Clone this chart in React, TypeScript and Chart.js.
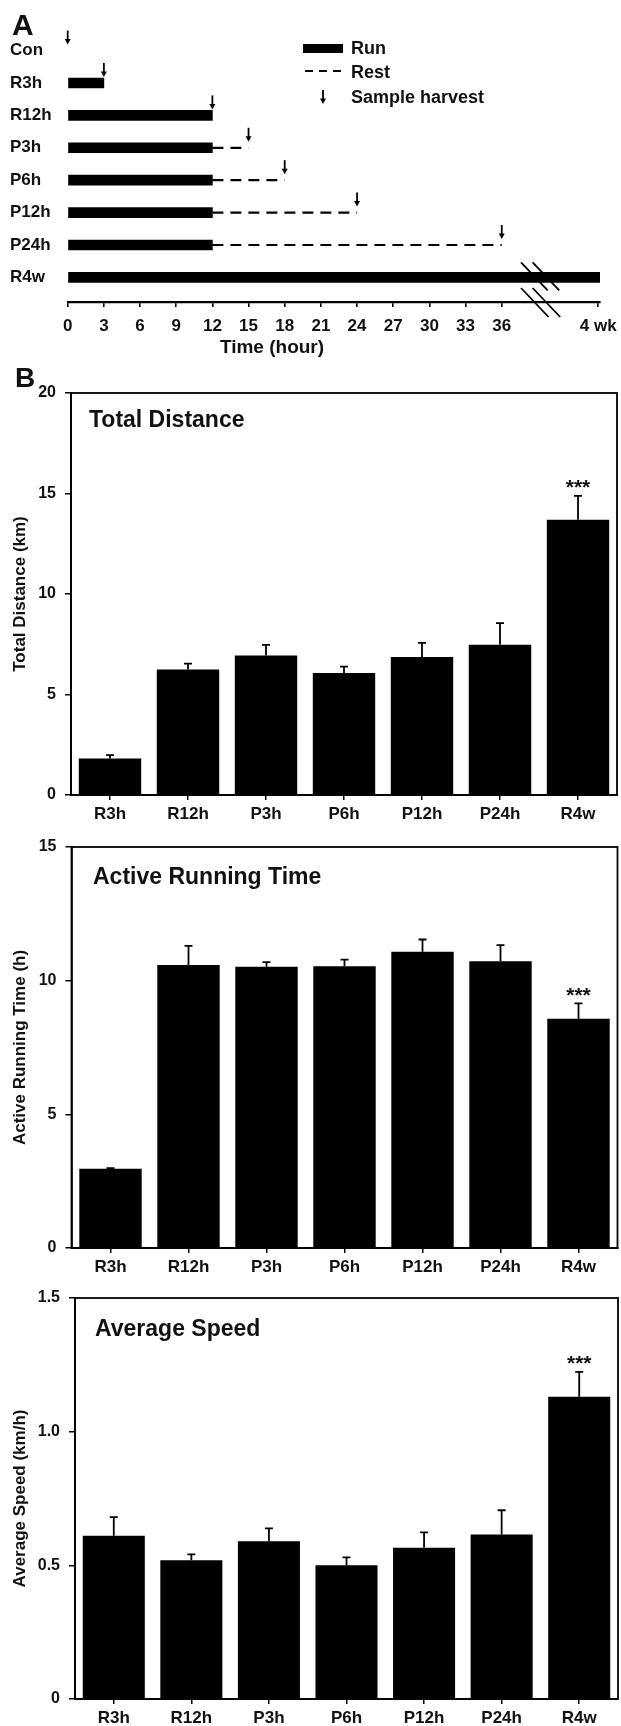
import React, { useEffect, useRef } from 'react';
import { Chart, registerables } from 'chart.js';

Chart.register(...registerables);

const FONT_FAMILY = '"Liberation Sans", Arial, Helvetica, sans-serif';
const INK = '#111111';
const MARK = '#000000';
const W = 621;

// ---------- Panel A: experimental timeline ----------
const rowLabels = ['Con', 'R3h', 'R12h', 'P3h', 'P6h', 'P12h', 'P24h', 'R4w'];
const runEndHour = [null, 3, 12, 12, 12, 12, 12, 44.15];
const restStartHour = [null, null, null, 12, 12, 12, 12, null];
const restEndHour = [null, null, null, 15, 18, 24, 36, null];
const harvestHour = [0, 3, 12, 15, 18, 24, 36, null];
const hourTicks = [0, 3, 6, 9, 12, 15, 18, 21, 24, 27, 30, 33, 36];
const weekTickValue = 44;
const weekTickLabel = '4 wk';
const timeAxisMax = 44.15;
const axisBreakHour = 37.6;
const timeAxisTitle = 'Time (hour)';
const legendLabels = ['Run', 'Rest', 'Sample harvest'];

// ---------- Panel B: running measures ----------
const groups = ['R3h', 'R12h', 'P3h', 'P6h', 'P12h', 'P24h', 'R4w'];
const distanceMean = [1.81, 6.24, 6.94, 6.07, 6.87, 7.47, 13.69];
const distanceSem = [0.17, 0.3, 0.53, 0.32, 0.7, 1.08, 1.19];
const runTimeMean = [2.96, 10.59, 10.52, 10.54, 11.08, 10.73, 8.58];
const runTimeSem = [0.03, 0.71, 0.17, 0.25, 0.46, 0.6, 0.57];
const speedMean = [0.611, 0.519, 0.59, 0.5, 0.566, 0.615, 1.131];
const speedSem = [0.069, 0.022, 0.048, 0.03, 0.057, 0.091, 0.093];
const significance = ['', '', '', '', '', '', '***'];

const font = (size: number) => ({ family: FONT_FAMILY, size, weight: 'bold' as const });
const cssFont = (size: number) => `bold ${size}px ${FONT_FAMILY}`;

function drawArrow(ctx: CanvasRenderingContext2D, x: number, y0: number, y1: number) {
  ctx.beginPath();
  ctx.moveTo(x, y0);
  ctx.lineTo(x, y1 - 4);
  ctx.stroke();
  ctx.beginPath();
  ctx.moveTo(x - 3, y1 - 5.5);
  ctx.lineTo(x + 3, y1 - 5.5);
  ctx.lineTo(x, y1);
  ctx.closePath();
  ctx.fill();
}

function buildTimeline(canvasH: number) {
  const runData: any[] = [];
  rowLabels.forEach((_, i) => {
    if (runEndHour[i] != null) runData.push({ y: i, x: [0, runEndHour[i]] });
  });
  const restSets: any[] = [];
  rowLabels.forEach((_, i) => {
    if (restEndHour[i] != null) {
      restSets.push({
        type: 'line',
        data: [
          { x: restStartHour[i], y: i },
          { x: restEndHour[i], y: i },
        ],
        borderColor: MARK,
        borderWidth: 2.2,
        borderDash: [11, 7],
        pointRadius: 0,
        fill: false,
      });
    }
  });

  const plugin = {
    id: 'timelineExtras',
    afterDraw(chart: any) {
      const { ctx, scales, chartArea } = chart;
      const x = scales.x;
      const y = scales.y;
      ctx.save();
      ctx.strokeStyle = MARK;
      ctx.fillStyle = MARK;
      ctx.lineWidth = 1.8;
      harvestHour.forEach((h, i) => {
        if (h == null) return;
        const px = x.getPixelForValue(h);
        const py = y.getPixelForValue(i);
        drawArrow(ctx, px, py - 20, py - 6);
      });
      // axis break marks
      const bx = x.getPixelForValue(axisBreakHour);
      const rowY = y.getPixelForValue(rowLabels.length - 1);
      const axisY = chartArea.bottom;
      ctx.lineWidth = 1.8;
      [
        [rowY - 15, rowY + 13],
        [axisY - 14, axisY + 15],
      ].forEach(([y0, y1]) => {
        [0, 11.6].forEach((dx) => {
          ctx.beginPath();
          ctx.moveTo(bx + dx, y0);
          ctx.lineTo(bx + dx + (y1 - y0) * 0.95, y1);
          ctx.stroke();
        });
      });
      // legend
      ctx.fillRect(303, 44, 40, 9);
      ctx.lineWidth = 2.2;
      ctx.setLineDash([8, 6]);
      ctx.beginPath();
      ctx.moveTo(305, 71);
      ctx.lineTo(345, 71);
      ctx.stroke();
      ctx.setLineDash([]);
      ctx.lineWidth = 1.8;
      drawArrow(ctx, 323, 90, 104);
      ctx.fillStyle = INK;
      ctx.font = cssFont(18);
      ctx.textAlign = 'left';
      ctx.textBaseline = 'middle';
      ctx.fillText(legendLabels[0], 351, 49);
      ctx.fillText(legendLabels[1], 351, 73);
      ctx.fillText(legendLabels[2], 351, 98);
      // axis title
      ctx.textAlign = 'center';
      ctx.font = cssFont(19);
      ctx.fillText(timeAxisTitle, 272, 348);
      // panel letter
      ctx.textAlign = 'left';
      ctx.textBaseline = 'alphabetic';
      ctx.font = cssFont(30);
      ctx.fillText('A', 12, 35);
      ctx.restore();
    },
  };

  return {
    type: 'bar',
    data: {
      datasets: [
        {
          type: 'bar',
          data: runData,
          backgroundColor: MARK,
          borderWidth: 0,
          barThickness: 10,
        },
        ...restSets,
      ],
    },
    options: {
      indexAxis: 'y',
      responsive: false,
      animation: false,
      devicePixelRatio: 1,
      layout: { padding: { left: 10, right: 21, top: 18.2, bottom: 0 } },
      plugins: { legend: { display: false }, tooltip: { enabled: false } },
      scales: {
        x: {
          type: 'linear',
          position: 'bottom',
          min: 0,
          max: timeAxisMax,
          offset: false,
          afterBuildTicks: (s: any) => {
            s.ticks = [...hourTicks.map((v) => ({ value: v })), { value: weekTickValue }];
          },
          ticks: {
            callback: (v: any) => (v === weekTickValue ? weekTickLabel : String(v)),
            font: font(17),
            color: INK,
            padding: 9,
            maxRotation: 0,
            autoSkip: false,
          },
          grid: { display: true, drawOnChartArea: false, drawTicks: true, tickLength: 5, color: MARK, lineWidth: 1.6 },
          border: { display: true, color: MARK, width: 2.2 },
          afterFit: (s: any) => {
            s.height = canvasH - 302;
            s.paddingLeft = 0;
            s.paddingRight = 0;
          },
        },
        y: {
          type: 'linear',
          reverse: true,
          min: -1,
          max: 7.76,
          offset: false,
          afterBuildTicks: (s: any) => {
            s.ticks = rowLabels.map((_, i) => ({ value: i }));
          },
          ticks: {
            callback: (v: any) => rowLabels[v] ?? '',
            font: font(17),
            color: INK,
            crossAlign: 'far',
            padding: 0,
            autoSkip: false,
          },
          grid: { display: false },
          border: { display: false },
          afterFit: (s: any) => {
            s.width = 57.7;
            s.paddingTop = 0;
            s.paddingBottom = 0;
          },
        },
      },
    },
    plugins: [plugin],
  };
}

interface BarParams {
  means: number[];
  sems: number[];
  title: string;
  yTitle: string;
  yMax: number;
  step: number;
  fmt: (v: number) => string;
  area: { left: number; right: number; top: number; bottom: number };
  canvasH: number;
  titleOffset: [number, number];
  letter?: { text: string; baseline: number };
}

function buildBarChart(p: BarParams) {
  const { means, sems, title, yTitle, yMax, step, fmt, area, canvasH, titleOffset, letter } = p;
  const plugin = {
    id: 'barExtras',
    afterDatasetsDraw(chart: any) {
      const { ctx } = chart;
      const y = chart.scales.y;
      const meta = chart.getDatasetMeta(0);
      ctx.save();
      ctx.strokeStyle = MARK;
      ctx.fillStyle = INK;
      ctx.lineWidth = 1.8;
      meta.data.forEach((bar: any, i: number) => {
        const x = bar.x;
        const y0 = y.getPixelForValue(means[i]);
        const y1 = y.getPixelForValue(means[i] + sems[i]);
        ctx.beginPath();
        ctx.moveTo(x, y0);
        ctx.lineTo(x, y1);
        ctx.moveTo(x - 4, y1);
        ctx.lineTo(x + 4, y1);
        ctx.stroke();
        if (significance[i]) {
          ctx.font = cssFont(21);
          ctx.textAlign = 'center';
          ctx.textBaseline = 'alphabetic';
          ctx.fillText(significance[i], x, y1 - 13.5 + 12);
        }
      });
      ctx.restore();
    },
    afterDraw(chart: any) {
      const { ctx, chartArea: a } = chart;
      ctx.save();
      ctx.strokeStyle = MARK;
      ctx.lineWidth = 1.8;
      ctx.strokeRect(a.left, a.top, a.right - a.left, a.bottom - a.top);
      ctx.fillStyle = INK;
      ctx.textAlign = 'left';
      ctx.textBaseline = 'alphabetic';
      ctx.font = cssFont(23);
      ctx.fillText(title, a.left + titleOffset[0], a.top + titleOffset[1] + 16.5);
      if (letter) {
        ctx.font = cssFont(28);
        ctx.fillText(letter.text, 15, letter.baseline);
      }
      ctx.restore();
    },
  };

  return {
    type: 'bar',
    data: {
      labels: groups,
      datasets: [
        {
          data: means,
          backgroundColor: MARK,
          borderWidth: 0,
          barPercentage: 0.8,
          categoryPercentage: 1,
        },
      ],
    },
    options: {
      responsive: false,
      animation: false,
      devicePixelRatio: 1,
      layout: { padding: { left: 0, right: W - area.right, top: area.top, bottom: 0 } },
      plugins: { legend: { display: false }, tooltip: { enabled: false } },
      scales: {
        x: {
          ticks: { font: font(17), color: INK, padding: 4, maxRotation: 0, autoSkip: false },
          grid: { offset: false, drawOnChartArea: false, drawTicks: true, tickLength: 5, color: MARK, lineWidth: 1.5 },
          border: { display: true, color: MARK, width: 1.8 },
          afterFit: (s: any) => {
            s.height = canvasH - area.bottom;
            s.paddingLeft = 0;
            s.paddingRight = 0;
          },
        },
        y: {
          min: 0,
          max: yMax,
          ticks: { stepSize: step, callback: (v: any) => fmt(Number(v)), font: font(16), color: INK, padding: 9 },
          grid: { drawOnChartArea: false, drawTicks: true, tickLength: 6, color: MARK, lineWidth: 1.5 },
          border: { display: true, color: MARK, width: 1.8 },
          title: { display: true, text: yTitle, font: font(17), color: INK, padding: { top: 10, bottom: 0 } },
          afterFit: (s: any) => {
            s.width = area.left;
            s.paddingTop = 0;
            s.paddingBottom = 0;
          },
        },
      },
    },
    plugins: [plugin],
  };
}

function ChartCanvas({ top, height, build }: { top: number; height: number; build: () => any }) {
  const ref = useRef<HTMLCanvasElement | null>(null);
  useEffect(() => {
    if (!ref.current) return;
    const chart = new Chart(ref.current, build());
    return () => chart.destroy();
  }, []);
  return (
    <canvas
      ref={ref}
      width={W}
      height={height}
      style={{ position: 'absolute', left: 0, top, width: W, height, display: 'block' }}
    />
  );
}

const intFmt = (v: number) => String(v);
const decFmt = (v: number) => (v === 0 ? '0' : v.toFixed(1));

export default function App() {
  return (
    <div style={{ position: 'absolute', left: 0, top: 0, width: W, height: 1726, background: '#fff' }}>
      <ChartCanvas top={0} height={362} build={() => buildTimeline(362)} />
      <ChartCanvas
        top={362}
        height={473}
        build={() =>
          buildBarChart({
            means: distanceMean,
            sems: distanceSem,
            title: 'Total Distance',
            yTitle: 'Total Distance (km)',
            yMax: 20,
            step: 5,
            fmt: intFmt,
            area: { left: 71, right: 617, top: 31, bottom: 433 },
            canvasH: 473,
            titleOffset: [18, 17],
            letter: { text: 'B', baseline: 25 },
          })
        }
      />
      <ChartCanvas
        top={835}
        height={445}
        build={() =>
          buildBarChart({
            means: runTimeMean,
            sems: runTimeSem,
            title: 'Active Running Time',
            yTitle: 'Active Running Time (h)',
            yMax: 15,
            step: 5,
            fmt: intFmt,
            area: { left: 71.5, right: 617.5, top: 12, bottom: 413 },
            canvasH: 445,
            titleOffset: [21.5, 20],
          })
        }
      />
      <ChartCanvas
        top={1280}
        height={446}
        build={() =>
          buildBarChart({
            means: speedMean,
            sems: speedSem,
            title: 'Average Speed',
            yTitle: 'Average Speed (km/h)',
            yMax: 1.5,
            step: 0.5,
            fmt: decFmt,
            area: { left: 75, right: 618, top: 18, bottom: 419 },
            canvasH: 446,
            titleOffset: [20, 21],
          })
        }
      />
    </div>
  );
}
